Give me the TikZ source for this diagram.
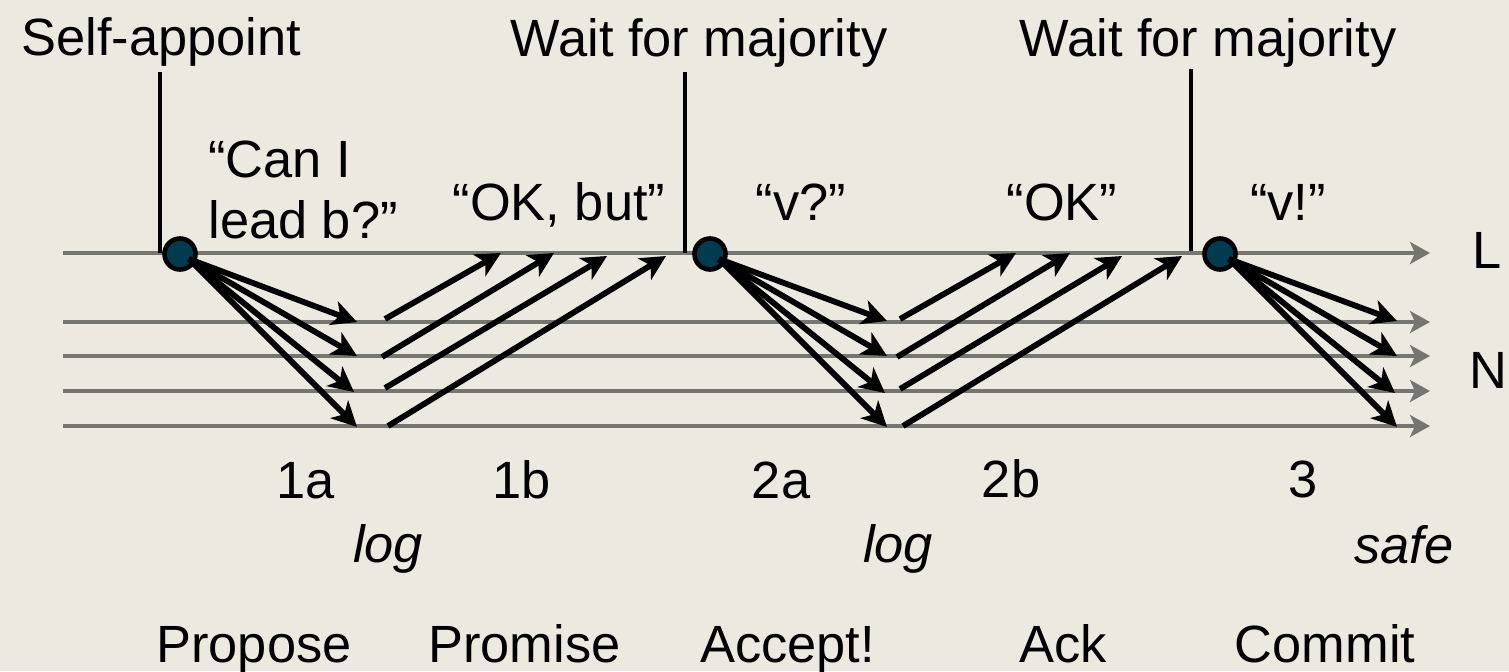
\documentclass[tikz,border=0pt]{standalone}
\usepackage{fontspec}
\setmainfont{Liberation Sans}
\usetikzlibrary{arrows.meta}
\definecolor{bg}{RGB}{236,233,224}
\definecolor{lanegray}{RGB}{118,118,112}
\definecolor{dotfill}{RGB}{0,59,79}
\begin{document}
\begin{tikzpicture}[x=0.5pt,y=-0.5pt,
  lane/.style={draw=lanegray,line width=2pt,-{Stealth[length=10pt,width=11pt,inset=2.5pt]}},
  msg/.style={draw=black,line width=2.9pt,-{Stealth[length=12.5pt,width=12.5pt,inset=3.5pt]}},
  tick/.style={draw=black,line width=2.4pt},
  dot/.style={circle,fill=dotfill,draw=black,line width=2.3pt,minimum size=15.5pt,inner sep=0pt},
  lbl/.style={font=\fontsize{26.2}{30.5}\selectfont,inner sep=0pt,anchor=base},
  ilbl/.style={lbl,font=\fontsize{26.2}{30.5}\selectfont\itshape}]
\useasboundingbox (0,0) rectangle (1509,671);
\fill[bg] (0,0) rectangle (1509,671);

% lanes
\coordinate (Ls) at (63,253);  \coordinate (Le) at (1430,253);
\coordinate (N1s) at (63,322); \coordinate (N1e) at (1430,322);
\coordinate (N2s) at (63,356); \coordinate (N2e) at (1430,356);
\coordinate (N3s) at (63,391); \coordinate (N3e) at (1430,391);
\coordinate (N4s) at (63,426); \coordinate (N4e) at (1430,426);
\draw[lane] (Ls) -- (Le);
\draw[lane] (N1s) -- (N1e);
\draw[lane] (N2s) -- (N2e);
\draw[lane] (N3s) -- (N3e);
\draw[lane] (N4s) -- (N4e);

% ticks
\coordinate (t1a) at (160,72);  \coordinate (t1b) at (160,253);
\coordinate (t2a) at (685,72);  \coordinate (t2b) at (685,253);
\coordinate (t3a) at (1191,69); \coordinate (t3b) at (1191,251);
\draw[tick] (t1a) -- (t1b);
\draw[tick] (t2a) -- (t2b);
\draw[tick] (t3a) -- (t3b);

% leader dots
\node[dot] (c1) at (180,254) {};
\node[dot] (c2) at (710,254) {};
\node[dot] (c3) at (1220,254) {};

% phase 1a
\coordinate (p1) at (357,322); \coordinate (p2) at (357,356);
\coordinate (p3) at (354,392); \coordinate (p4) at (357,427);
\foreach \t in {p1,p2,p3,p4} \draw[msg] ([shift={(9,5)}]c1.center) -- (\t);

% phase 1b
\coordinate (q1s) at (385,319); \coordinate (q1e) at (501,253);
\coordinate (q2s) at (382,357); \coordinate (q2e) at (554,253);
\coordinate (q3s) at (385,388); \coordinate (q3e) at (607,256);
\coordinate (q4s) at (388,426); \coordinate (q4e) at (666,256);
\foreach \i in {1,2,3,4} \draw[msg] (q\i s) -- (q\i e);

% phase 2a
\coordinate (r1) at (887,321); \coordinate (r2) at (887,356);
\coordinate (r3) at (885,393); \coordinate (r4) at (887,427);
\foreach \t in {r1,r2,r3,r4} \draw[msg] ([shift={(9,5)}]c2.center) -- (\t);

% phase 2b
\coordinate (s1s) at (900,319); \coordinate (s1e) at (1016,253);
\coordinate (s2s) at (897,357); \coordinate (s2e) at (1070,253);
\coordinate (s3s) at (900,389); \coordinate (s3e) at (1122,256);
\coordinate (s4s) at (903,426); \coordinate (s4e) at (1182,256);
\foreach \i in {1,2,3,4} \draw[msg] (s\i s) -- (s\i e);

% phase 3
\coordinate (u1) at (1397,321); \coordinate (u2) at (1397,356);
\coordinate (u3) at (1395,393); \coordinate (u4) at (1397,427);
\foreach \t in {u1,u2,u3,u4} \draw[msg] ([shift={(9,5)}]c3.center) -- (\t);

% top labels
\node[lbl] (selfapp) at (161.5,55) {Self-appoint};
\node[lbl] (wait1) at (699,56) {Wait for majority};
\node[lbl] (wait2) at (1208,56) {Wait for majority};

% message labels
\node[lbl,anchor=base west] (canI) at (208,177) {“Can I};
\node[lbl,anchor=base west] (leadb) at (208,238) {lead b?”};
\node[lbl] (okbut) at (559,220) {“OK, but”};
\node[lbl] (vq) at (801,220) {“v?”};
\node[lbl] (ok) at (1062,220) {“OK”};
\node[lbl] (vx) at (1288,220) {“v!”};

% lane labels
\node[lbl,anchor=base west] (labL) at (1472,268) {L};
\node[lbl,anchor=base west] (labN) at (1469,388) {N};

% phase numbers
\node[lbl] (n1a) at (306,498) {1a};
\node[lbl] (n1b) at (522,498) {1b};
\node[lbl] (n2a) at (781,498) {2a};
\node[lbl] (n2b) at (1011,497) {2b};
\node[lbl] (n3) at (1303.5,497) {3};

% italic notes
\node[ilbl] (log1) at (388,562) {log};
\node[ilbl] (log2) at (898,562) {log};
\node[ilbl] (safe) at (1404,563) {safe};

% phase names
\node[lbl] (propose) at (254,662) {Propose};
\node[lbl] (promise) at (524.5,662) {Promise};
\node[lbl] (accept) at (787.5,662) {Accept!};
\node[lbl] (ack) at (1063,662) {Ack};
\node[lbl] (commit) at (1325,662) {Commit};
\end{tikzpicture}
\end{document}
